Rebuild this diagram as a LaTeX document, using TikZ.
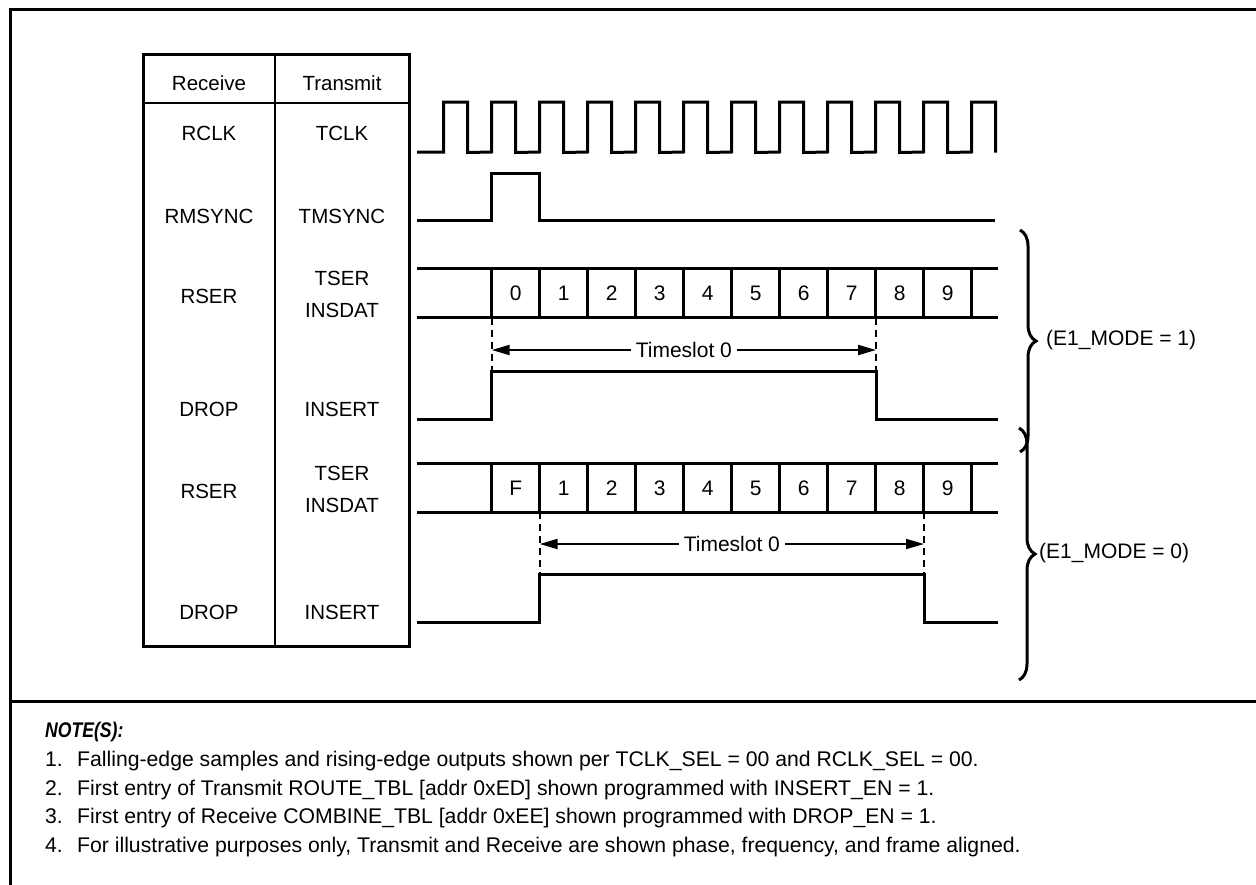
\documentclass[tikz,border=0pt]{standalone}
\usepackage{fontspec}
\setmainfont{Liberation Sans}
\newfontfamily\noteheadfont[FakeStretch=0.83]{Liberation Sans}
\usetikzlibrary{arrows.meta,decorations.pathreplacing}
\tikzset{
  frameline/.style={line width=3pt},
  tblouter/.style={line width=3pt},
  tblinner/.style={line width=2pt},
  wave/.style={line width=3pt, line join=miter},
  cellline/.style={line width=2.5pt},
  guide/.style={line width=2pt, dash pattern=on 7pt off 5pt},
  span/.style={line width=2pt, {Triangle[length=18pt,width=10pt]}-{Triangle[length=18pt,width=10pt]}},
  lbl/.style={font=\fontsize{20.5}{24}\selectfont, inner sep=0pt},
  wlbl/.style={font=\fontsize{21}{24}\selectfont, inner sep=0pt},
  spanlbl/.style={font=\fontsize{21}{24}\selectfont, fill=white, inner sep=5pt},
  bracestyle/.style={line width=3pt, decorate, decoration={brace, amplitude=16pt}},
  notetxt/.style={font=\fontsize{21.2}{23}\selectfont, inner sep=0pt, anchor=base west},
  notehead/.style={font=\noteheadfont\bfseries\itshape\fontsize{21.2}{23}\selectfont, inner sep=0pt, anchor=base west},
}
\begin{document}
\begin{tikzpicture}[x=1pt,y=-1pt]
\useasboundingbox (0,0) rectangle (1256,884);
\fill[white] (0,0) rectangle (1256,884);
% outer frame and divider
\draw[frameline] (10,9) rectangle (1266,894);
\draw[frameline] (10,701) -- (1266,701);
% table
\draw[tblouter] (143,54) rectangle (409,646);
\draw[tblinner] (275,54) -- (275,646);
\draw[tblinner] (143,102.5) -- (409,102.5);
\node[lbl] (hrx) at (209,83) {Receive};
\node[lbl] (htx) at (342,83) {Transmit};
\node[lbl] (rclk) at (209,133) {RCLK};
\node[lbl] (tclk) at (342,133) {TCLK};
\node[lbl] (rms) at (209,216) {RMSYNC};
\node[lbl] (tms) at (342,216) {TMSYNC};
\node[lbl] (rser1) at (209,296) {RSER};
\node[lbl] (tser1) at (342,278) {TSER};
\node[lbl] (ins1) at (342,310) {INSDAT};
\node[lbl] (drop1) at (209,409) {DROP};
\node[lbl] (insert1) at (342,409) {INSERT};
\node[lbl] (rser2) at (209,491) {RSER};
\node[lbl] (tser2) at (342,473) {TSER};
\node[lbl] (ins2) at (342,505) {INSDAT};
\node[lbl] (drop2) at (209,612) {DROP};
\node[lbl] (insert2) at (342,612) {INSERT};
% clock
\draw[wave] (417,152) foreach \k in {0,...,11} {
  -- ({443.7+48*\k},152) -- ({443.7+48*\k},102) -- ({467.7+48*\k},102) -- ({467.7+48*\k},152.5) };
% sync
\draw[wave] (417,220) -- (491.7,220) -- (491.7,173) -- (539.7,173) -- (539.7,220) -- (995,220);
% bus 1
\draw[wave] (417,268.3) -- (998,268.3);
\draw[wave] (417,317.7) -- (998,317.7);
\foreach \k in {0,...,10} { \draw[cellline] ({491.7+48*\k},268.3) -- ({491.7+48*\k},317.7); }
\foreach \t [count=\i from 0] in {0,1,2,3,4,5,6,7,8,9} {
  \node[wlbl] (ba\i) at ({515.7+48*\i},293) {\t}; }
\coordinate (d1a) at (491.7,317.7);
\coordinate (d1b) at (491.7,371.7);
\coordinate (d1c) at (876,317.7);
\coordinate (d1d) at (876,371.7);
\draw[guide] (d1a) -- (d1b);
\draw[guide] (d1c) -- (d1d);
\coordinate (a1l) at (491.7,350);
\coordinate (a1r) at (876,350);
\draw[span] (a1l) -- node[spanlbl] (ts1) {Timeslot 0} (a1r);
\draw[wave] (417,419.3) -- (491.7,419.3) -- (491.7,371.7) -- (876,371.7) -- (876,419.3) -- (998,419.3);
% bus 2
\draw[wave] (417,463.3) -- (998,463.3);
\draw[wave] (417,512.3) -- (998,512.3);
\foreach \k in {0,...,10} { \draw[cellline] ({491.7+48*\k},463.3) -- ({491.7+48*\k},512.3); }
\foreach \t [count=\i from 0] in {F,1,2,3,4,5,6,7,8,9} {
  \node[wlbl] (bb\i) at ({515.7+48*\i},488) {\t}; }
\coordinate (d2a) at (539.7,512.3);
\coordinate (d2b) at (539.7,574.3);
\coordinate (d2c) at (924,512.3);
\coordinate (d2d) at (924,574.3);
\draw[guide] (d2a) -- (d2b);
\draw[guide] (d2c) -- (d2d);
\coordinate (a2l) at (539.7,544);
\coordinate (a2r) at (924,544);
\draw[span] (a2l) -- node[spanlbl] (ts2) {Timeslot 0} (a2r);
\draw[wave] (417,622.7) -- (539.7,622.7) -- (539.7,574.3) -- (924,574.3) -- (924,622.7) -- (998,622.7);
% braces
\coordinate (br1t) at (1020,230);
\coordinate (br1b) at (1020,452);
\coordinate (br2t) at (1019,428);
\coordinate (br2b) at (1019,680);
\draw[bracestyle] (br1t) -- (br1b);
\draw[bracestyle] (br2t) -- (br2b);
\node[wlbl, anchor=west] (m1) at (1046,340) {(E1\_MODE = 1)};
\node[wlbl, anchor=west] (m0) at (1039,553) {(E1\_MODE = 0)};
% notes
\node[notehead] (nh) at (45,737) {NOTE(S):};
\node[notetxt] (n1) at (45,766) {1.};
\node[notetxt] (t1) at (77,766) {Falling-edge samples and rising-edge outputs shown per TCLK\_SEL = 00 and RCLK\_SEL = 00.};
\node[notetxt] (n2) at (45,795) {2.};
\node[notetxt] (t2) at (77,795) {First entry of Transmit ROUTE\_TBL [addr 0xED] shown programmed with INSERT\_EN = 1.};
\node[notetxt] (n3) at (45,823) {3.};
\node[notetxt] (t3) at (77,823) {First entry of Receive COMBINE\_TBL [addr 0xEE] shown programmed with DROP\_EN = 1.};
\node[notetxt] (n4) at (45,852) {4.};
\node[notetxt] (t4) at (77,852) {For illustrative purposes only, Transmit and Receive are shown phase, frequency, and frame aligned.};
\end{tikzpicture}
\end{document}
